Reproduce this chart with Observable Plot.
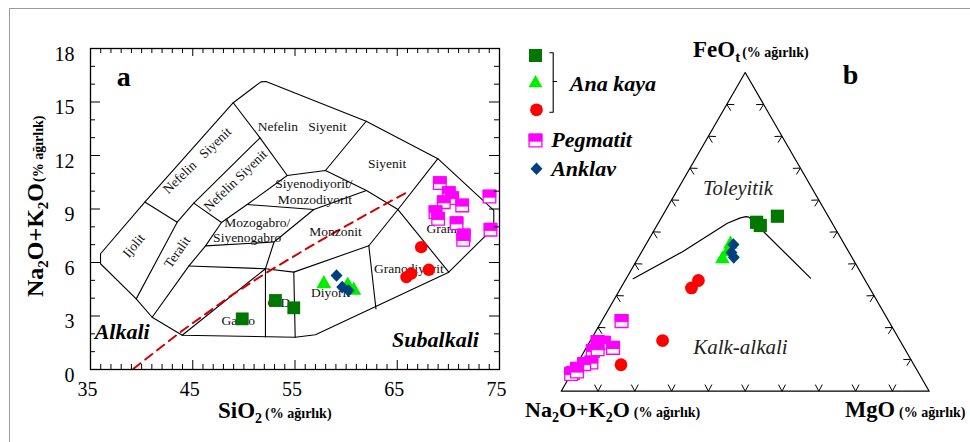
<!DOCTYPE html>
<html><head><meta charset="utf-8">
<script src="https://cdn.jsdelivr.net/npm/d3@7"></script>
<script src="https://cdn.jsdelivr.net/npm/@observablehq/plot@0.6"></script>
<style>
body{margin:0;background:#fff;}
#wrap{position:relative;width:970px;height:442px;overflow:hidden;font-family:"Liberation Serif","Times New Roman",serif;}
#border{position:absolute;left:9px;top:8px;width:980px;height:450px;border-left:1px solid #9a9a9a;border-top:1px solid #9a9a9a;}
.abs{position:absolute;}
</style></head><body><div id="wrap"><div id="border"></div></div>
<script>
// ---------------- TAS (a) data ----------------
const xTickLabels=[35,45,55,65,75];
const yTickLabels=[0,3,6,9,12,15,18];
const xMajor=[45,55,65];
const yMajor=[3,6,9,12,15];
const xMinor=d3.range(36,75).filter(v=>!xMajor.includes(v));
const yMinor=d3.range(1,18).filter(v=>!yMajor.includes(v));

const tasOuter=[[35.98,5.93],[35.98,6.49],[40.31,9.39],[48.96,14.96],[51.66,16.13],[52.16,16.15],[61.96,13.92],[68.97,11.82],[74.44,8.92],[74.44,7.96],[70.04,5.46],[57.0,1.95],[55.02,1.81],[43.97,1.92],[41.03,2.93],[39.47,3.96],[35.98,5.93]];
const tasLines=[
 [[40.31,9.39],[43.48,8.26]],
 [[39.47,3.96],[43.48,8.26],[45.10,9.33],[51.58,12.99]],
 [[45.10,9.33],[47.81,8.24]],
 [[41.03,2.93],[44.61,5.80],[46.25,6.93],[47.81,8.24],[50.32,9.25],[54.24,10.88]],
 [[48.96,14.96],[51.58,12.99],[54.24,10.88]],
 [[54.24,10.88],[57.98,11.16],[61.99,10.04],[65.07,8.97],[70.04,5.46]],
 [[57.98,11.16],[61.96,13.92]],
 [[68.97,11.82],[65.07,8.97],[62.22,6.94]],
 [[50.32,9.25],[56.84,8.97]],
 [[56.84,8.97],[61.99,10.04]],
 [[56.84,8.97],[52.95,7.15],[52.11,5.65]],
 [[46.25,6.93],[52.95,7.15]],
 [[44.61,5.80],[52.11,5.65]],
 [[43.97,1.92],[52.11,5.65]],
 [[52.11,5.65],[52.11,1.83]],
 [[52.11,5.65],[54.88,5.46],[62.22,6.94]],
 [[54.88,5.46],[55.02,1.81]],
 [[62.22,6.94],[62.92,3.39]]
];
const alkaliLine=[[39.2,0.04],[44.0,2.19],[49.0,4.24],[52.3,5.46],[57.2,7.14],[62.1,8.73],[65.8,9.89]];
const NB="\u00a0";
const fieldLabels=[
 {t:"Nefelin"+NB+NB+NB+"Siyenit",x:55.69,y:13.59,r:0},
 {t:"Siyenit",x:64.02,y:11.53,r:0},
 {t:"Siyenodiyorit/",x:56.84,y:10.41,r:0},
 {t:"Monzodiyorit",x:56.95,y:9.53,r:0},
 {t:"Mozogabro/",x:51.30,y:8.26,r:0},
 {t:"Siyenogabro",x:50.33,y:7.39,r:0},
 {t:"Monzonit",x:58.96,y:7.74,r:0},
 {t:"Granit",x:69.55,y:7.87,r:0},
 {t:"Granodiyorit",x:66.13,y:5.65,r:0},
 {t:"Diyorit",x:58.47,y:4.30,r:0},
 {t:"G.D",x:53.42,y:3.77,r:0},
 {t:"Gabro",x:49.45,y:2.71,r:0},
 {t:"Ijolit",x:39.23,y:6.95,r:-50},
 {t:"Teralit",x:43.48,y:6.58,r:-55},
 {t:"Nefelin"+NB+NB+NB+"Siyenit",x:45.43,y:11.72,r:-44},
 {t:"Nefelin Siyenit",x:49.18,y:10.60,r:-44}
];
const tasSquares=[[49.84,2.84],[53.09,3.87],[54.88,3.46]];
const tasTriangles=[[57.82,4.90],[60.16,4.81],[60.75,4.53]];
const tasDiamonds=[[59.06,5.27],[59.62,4.62],[60.23,4.43]];
const tasCircles=[[67.34,6.86],[68.09,5.59],[66.36,5.37],[65.90,5.18]];
const tasPegmatite=[[69.16,10.45],[70.04,9.89],[70.37,9.61],[69.55,9.38],[71.35,9.20],[68.74,8.82],[69.0,8.45],[70.8,8.20],[71.51,7.52],[71.45,7.27],[74.02,9.70],[74.12,7.84]];

// ---------------- AFM (b) data: [FeOt, Na2O+K2O, MgO] ----------------
const afmSquares=[[53.0,20.4,26.6],[52.0,19.9,28.1],[54.9,13.8,31.3]];
const afmTriangles=[[46.7,30.7,22.7],[44.2,32.7,23.1],[42.0,35.2,22.8]];
const afmDiamonds=[[46.0,30.2,23.8],[43.5,32.0,24.5],[42.0,32.1,25.9]];
const afmCircles=[[34.7,45.3,19.9],[32.4,48.4,19.2],[15.9,64.5,19.6],[8.3,79.6,12.1]];
const afmPegmatite=[[22.0,72.6,5.4],[15.4,82.4,2.2],[15.2,80.8,4.0],[13.6,79.1,7.3],[12.6,85.1,2.3],[13.2,83.5,3.3],[9.0,87.3,3.7],[8.5,89.5,2.0],[7.0,92.2,0.8],[5.7,94.0,0.3],[5.4,94.6,0.0],[6.2,92.6,1.2]];
const afmBoundary=[[35.3,62.8,1.9],[43.7,45.3,11.0],[52.7,28.5,18.8],[54.4,24.1,21.5],[54.8,22.4,22.8],[54.6,21.7,23.7],[35.5,14.5,50.0]];
const afmTicks=[0.1,0.2,0.3,0.4,0.5,0.6,0.7,0.8,0.9];

// ---------------- legend ----------------
const legendGroup=["Ana kaya"];
const legendOthers=["Pegmatit","Anklav"];

// ---------------- colours / symbols ----------------
const cSquare="#007800", cTri="#00ee00", cCirc="#ff0000", cPeg="#ff00ff", cDia="#003f80";
function sym(fn){return {draw(c,size){fn(c,Math.sqrt(size/Math.PI));}};}
const symSquare=sym((c,r)=>{c.moveTo(-r,-r);c.lineTo(r,-r);c.lineTo(r,r);c.lineTo(-r,r);c.closePath();});
const symTop=sym((c,r)=>{c.moveTo(-r,-r);c.lineTo(r,-r);c.lineTo(r,0.1*r);c.lineTo(-r,0.1*r);c.closePath();});
const symTri=sym((c,r)=>{c.moveTo(0,-r*1.05);c.lineTo(r*1.1,r*0.9);c.lineTo(-r*1.1,r*0.9);c.closePath();});
const symDia=sym((c,r)=>{c.moveTo(0,-r*1.05);c.lineTo(r,0);c.lineTo(0,r*1.05);c.lineTo(-r,0);c.closePath();});

function pegMarks(data,opts,r){
  return data.flatMap(d=>[
    Plot.dot([d],{...opts,r,symbol:symSquare,fill:"white",stroke:cPeg,strokeWidth:1.3}),
    Plot.dot([d],{...opts,r,symbol:symTop,fill:cPeg,stroke:cPeg,strokeWidth:1})
  ]);
}

const wrap=document.getElementById("wrap");
const serif="Liberation Serif, Times New Roman, serif";

// ---------------- TAS plot ----------------
const X=d=>d[0], Y=d=>d[1];
const innerH=442-48-73, innerW=520-90-21;
const tas=Plot.plot({
  width:520,height:442,marginLeft:90,marginRight:21,marginTop:48,marginBottom:73,
  x:{domain:[35,75],axis:null},y:{domain:[0,18],axis:null},
  style:{fontFamily:serif,background:"none",overflow:"visible"},
  marks:[
    Plot.line(tasOuter,{x:X,y:Y,stroke:"black",strokeWidth:1.1}),
    ...tasLines.map(l=>Plot.line(l,{x:X,y:Y,stroke:"black",strokeWidth:1.1})),
    Plot.line(alkaliLine,{x:X,y:Y,stroke:"#d00000",strokeWidth:2,strokeDasharray:"9,6"}),
    Plot.text(fieldLabels,{x:"x",y:"y",text:"t",rotate:"r",fontSize:13.5,fill:"#111"}),
    Plot.text(["Alkali"],{x:[38.1],y:[2.09],fontSize:22,fontWeight:"bold",fontStyle:"italic"}),
    Plot.text(["Subalkali"],{x:[68.74],y:[1.68],fontSize:22,fontWeight:"bold",fontStyle:"italic"}),
    Plot.text(["a"],{x:[38.26],y:[16.39],fontSize:28,fontWeight:"bold"}),
    Plot.dot(tasSquares,{x:X,y:Y,r:6.4,symbol:symSquare,fill:cSquare}),
    Plot.dot(tasTriangles,{x:X,y:Y,r:6.8,symbol:symTri,fill:cTri}),
    Plot.dot(tasDiamonds,{x:X,y:Y,r:6,symbol:symDia,fill:cDia}),
    Plot.dot(tasCircles,{x:X,y:Y,r:6.2,fill:cCirc}),
    ...pegMarks(tasPegmatite,{x:X,y:Y},6.3),
    Plot.frame({stroke:"black",strokeWidth:1.3}),
    Plot.tickX(xMinor,{x:d=>d,insetTop:innerH-5,stroke:"black"}),
    Plot.tickX(xMajor,{x:d=>d,insetTop:innerH-9,stroke:"black"}),
    Plot.tickX(xMinor,{x:d=>d,insetBottom:innerH-5,stroke:"black"}),
    Plot.tickX(xMajor,{x:d=>d,insetBottom:innerH-8,stroke:"black"}),
    Plot.tickY(yMinor,{y:d=>d,insetRight:innerW-5,stroke:"black"}),
    Plot.tickY(yMajor,{y:d=>d,insetRight:innerW-10,stroke:"black"}),
    Plot.tickY(yMinor,{y:d=>d,insetLeft:innerW-5,stroke:"black"}),
    Plot.tickY(yMajor,{y:d=>d,insetLeft:innerW-10,stroke:"black"}),
    Plot.text(xTickLabels,{x:d=>d,text:d=>String(d),frameAnchor:"bottom",dy:26,dx:-3,fontSize:20}),
    Plot.text(yTickLabels,{y:d=>d,text:d=>String(d),frameAnchor:"left",dx:-16,dy:6,textAnchor:"end",fontSize:20})
  ]
});
tas.classList.add("abs"); tas.style.left="0px"; tas.style.top="0px";
wrap.appendChild(tas);

// ---------------- AFM ternary plot ----------------
const H3=Math.sqrt(3)/2;
const tx=p=>(p[2]+p[0]/2)/(p[0]+p[1]+p[2]);
const ty=p=>p[0]/(p[0]+p[1]+p[2])*H3;
const triangle=[[0,100,0],[0,0,100],[100,0,0],[0,100,0]];
const L=7.5/368, half=28*Math.PI/180;
const edges=[
  {pt:f=>[f,0],n:Math.PI/2},
  {pt:f=>[f/2,f*H3],n:-Math.PI/6},
  {pt:f=>[1-f/2,f*H3],n:Math.PI*7/6}
];
const tickSegs=edges.flatMap(e=>afmTicks.flatMap(f=>{const [x,y]=e.pt(f);
  return [-half,half].map(a=>({x1:x,y1:y,x2:x+L*Math.cos(e.n+a),y2:y+L*Math.sin(e.n+a)}));}));
const afm=Plot.plot({
  width:450,height:442,marginLeft:40.7,marginRight:41.3,marginTop:72,marginBottom:51.3,
  x:{domain:[0,1],axis:null},y:{domain:[0,H3],axis:null},
  style:{fontFamily:serif,background:"none",overflow:"visible"},
  marks:[
    Plot.line(triangle,{x:tx,y:ty,stroke:"black",strokeWidth:1.2}),
    Plot.link(tickSegs,{x1:"x1",y1:"y1",x2:"x2",y2:"y2",stroke:"black",strokeWidth:1}),
    Plot.line(afmBoundary,{x:tx,y:ty,stroke:"black",strokeWidth:1.2}),
    Plot.text(["Toleyitik"],{x:[0.48],y:[0.55],fontSize:20.5,fontStyle:"italic",fill:"#222"}),
    Plot.text(["Kalk-alkali"],{x:[0.487],y:[0.12],fontSize:21,fontStyle:"italic",fill:"#222"}),
    Plot.text(["b"],{x:[0.786],y:[0.858],fontSize:28,fontWeight:"bold"}),
    Plot.dot(afmSquares,{x:tx,y:ty,r:6.6,symbol:symSquare,fill:cSquare}),
    Plot.dot(afmTriangles,{x:tx,y:ty,r:6.6,symbol:symTri,fill:cTri}),
    Plot.dot(afmDiamonds,{x:tx,y:ty,r:6,symbol:symDia,fill:cDia}),
    Plot.dot(afmCircles,{x:tx,y:ty,r:6.4,fill:cCirc}),
    ...pegMarks(afmPegmatite,{x:tx,y:ty},6.4)
  ]
});
afm.classList.add("abs"); afm.style.left="520px"; afm.style.top="0px";
wrap.appendChild(afm);

// ---------------- legend plot ----------------
const legSymbols=[
  {x:15,y:15,s:symSquare,f:cSquare,r:6.5},
  {x:15,y:41,s:symTri,f:cTri,r:6.3},
  {x:16,y:69.3,s:null,f:cCirc,r:6.4},
  {x:16,y:128.3,s:symDia,f:cDia,r:6}
];
const leg=Plot.plot({
  width:170,height:150,margin:0,
  x:{domain:[0,170],range:[0,170],axis:null},y:{domain:[0,150],range:[0,150],axis:null},
  style:{fontFamily:serif,background:"none",overflow:"visible"},
  marks:[
    ...legSymbols.map(d=>Plot.dot([d],{x:"x",y:"y",r:d.r,fill:d.f,symbol:d.s||"circle"})),
    ...pegMarks([{x:15,y:100}],{x:"x",y:"y"},6.4),
    Plot.line([[29.3,12.3],[32.7,12.3],[32.7,71.7],[29.3,71.7]],{x:X,y:Y,stroke:"black",strokeWidth:1.1}),
    Plot.line([[32.7,41],[36,41]],{x:X,y:Y,stroke:"black",strokeWidth:1.1}),
    Plot.text(legendGroup,{x:[49.3],y:[43.3],text:d=>d,textAnchor:"start",fontSize:22,fontWeight:"bold",fontStyle:"italic"}),
    Plot.text(legendOthers,{x:[30.7,30.7],y:[99.3,128],text:d=>d,textAnchor:"start",fontSize:22,fontWeight:"bold",fontStyle:"italic"})
  ]
});
leg.classList.add("abs"); leg.style.left="520px"; leg.style.top="40px";
wrap.appendChild(leg);

// ---------------- axis titles ----------------
const ov=d3.select(wrap).append("svg").attr("width",970).attr("height",442)
  .style("position","absolute").style("left","0px").style("top","0px")
  .style("font-family",serif).style("font-weight","bold");
function title(x,y,rot,parts){
  const t=ov.append("text").attr("transform",`translate(${x},${y}) rotate(${rot})`);
  parts.forEach(([s,size,dy,dx])=>t.append("tspan").attr("font-size",size).attr("dy",dy||0).attr("dx",dx||0).text(s));
}
title(43,297,-90,[["Na",24],["2",15,5],["O+K",24,-5],["2",15,5],["O",24,-5],["(% ağırlık)",14,0,1]]);
title(218,418,0,[["SiO",23],["2",14,5],["(% ağırlık)",14,-5,3]]);
title(693,57,0,[["FeO",23],["t",15,5],["(% ağırlık)",14,-5,2]]);
title(525,417,0,[["Na",22],["2",14,5],["O+K",22,-5],["2",14,5],["O",22,-5],["(% ağırlık)",14,0,4]]);
title(845,417,0,[["MgO",22.5],["(% ağırlık)",14,0,4]]);
</script>
</body></html>
